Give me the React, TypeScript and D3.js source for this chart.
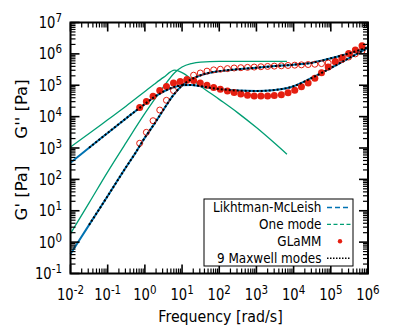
import React from "react";
import * as d3 from "d3";

// ---- data (log10 values) ----
const lmLogW = [-2, -1.5, -1, -0.5, -0.25, 0, 0.25, 0.5, 0.75, 1, 1.25, 1.5, 1.75, 2, 2.5, 3, 3.5, 4, 4.5, 5, 5.5, 6];
const lmLogGp = [-0.38, 0.55, 1.47, 2.4, 2.85, 3.33, 3.76, 4.22, 4.66, 4.99, 5.19, 5.32, 5.4, 5.45, 5.51, 5.56, 5.61, 5.655, 5.72, 5.86, 6.02, 6.21];
const lmLogGpp = [2.53, 3.01, 3.48, 3.95, 4.18, 4.4, 4.62, 4.8, 4.93, 5.0, 5.01, 4.97, 4.92, 4.88, 4.83, 4.815, 4.85, 4.97, 5.24, 5.55, 5.87, 6.19];

const mxLogW = [-1.5, -1, -0.5, -0.25, 0, 0.25, 0.5, 0.75, 1, 1.25, 1.5, 1.75, 2, 2.5, 3, 3.5, 4, 4.5, 5, 5.5, 6];
const mxLogGp = [0.55, 1.47, 2.4, 2.85, 3.33, 3.76, 4.22, 4.66, 4.99, 5.19, 5.32, 5.4, 5.45, 5.51, 5.56, 5.61, 5.655, 5.72, 5.86, 6.02, 6.21];
const mxLogGpp = [3.01, 3.48, 3.95, 4.18, 4.4, 4.62, 4.8, 4.93, 5.0, 5.01, 4.97, 4.92, 4.88, 4.83, 4.815, 4.85, 4.97, 5.24, 5.55, 5.87, 6.19];

const oneLogW = [-2, -1.5, -1, -0.5, 0, 0.25, 0.5, 0.8, 1, 1.25, 1.5, 2, 2.5, 3, 3.5, 3.82];
const oneLogGp = [0.27, 1.25, 2.24, 3.18, 4.1, 4.53, 4.95, 5.4, 5.58, 5.69, 5.74, 5.76, 5.76, 5.76, 5.76, 5.76];
const oneLogGpp = [3.03, 3.46, 3.9, 4.34, 4.8, 5.03, 5.25, 5.48, 5.4, 5.2, 4.97, 4.55, 4.12, 3.65, 3.14, 2.8];

const glammLogW = [-0.14, 0.04, 0.22, 0.4, 0.58, 0.77, 0.95, 1.13, 1.31, 1.49, 1.67, 1.85, 2.03, 2.22, 2.4, 2.58, 2.76, 2.94, 3.12, 3.3, 3.48, 3.67, 3.85, 4.03, 4.21, 4.39, 4.57, 4.75, 4.93, 5.12, 5.3, 5.48, 5.66, 5.84];
const glammLogGp = [3.15, 3.5, 3.87, 4.21, 4.52, 4.83, 5.05, 5.19, 5.32, 5.39, 5.45, 5.49, 5.51, 5.53, 5.55, 5.56, 5.57, 5.58, 5.59, 5.6, 5.61, 5.62, 5.63, 5.64, 5.65, 5.66, 5.67, 5.69, 5.71, 5.76, 5.82, 5.9, 6.0, 6.1];
const glammLogGpp = [4.29, 4.48, 4.65, 4.83, 4.96, 5.07, 5.12, 5.16, 5.15, 5.07, 5.0, 4.93, 4.87, 4.82, 4.77, 4.72, 4.68, 4.66, 4.66, 4.66, 4.67, 4.7, 4.76, 4.84, 4.95, 5.07, 5.22, 5.4, 5.58, 5.75, 5.88, 6.01, 6.12, 6.26];

const xDecades = [-2, -1, 0, 1, 2, 3, 4, 5, 6];
const yDecades = [-1, 0, 1, 2, 3, 4, 5, 6, 7];
const legendLabels = ["Likhtman-McLeish", "One mode", "GLaMM", "9 Maxwell modes"];

const BLUE = "#0072b2";
const GREEN = "#009e73";
const RED = "#e51e10";
const FONT = "DejaVu Sans, sans-serif";
const SX = 0.86; // horizontal squeeze to mimic a narrower face

export default function App() {
  const W = 399, H = 331;
  const L = 70.5, R = 368, T = 22.5, B = 273.5;
  const x = d3.scaleLog().domain([1e-2, 1e6]).range([L, R]);
  const y = d3.scaleLog().domain([1e-1, 1e7]).range([B, T]);

  const pts = (lw: number[], lg: number[]) => lw.map((w, i) => [Math.pow(10, w), Math.pow(10, lg[i])] as [number, number]);
  const line = d3.line<[number, number]>().x(d => x(d[0])).y(d => y(d[1])).curve(d3.curveMonotoneX);

  const minorX: number[] = [];
  xDecades.slice(0, -1).forEach(e => { for (let m = 2; m <= 9; m++) minorX.push(m * Math.pow(10, e)); });
  const minorY: number[] = [];
  yDecades.slice(0, -1).forEach(e => { for (let m = 2; m <= 9; m++) minorY.push(m * Math.pow(10, e)); });

  const MAJ = 9, MIN = 5;
  const tickStyle = { stroke: "#000", strokeWidth: 1.6 };

  return (
    <svg width={W} height={H} style={{ position: "absolute", left: 0, top: 0, background: "#fff" }} fontFamily={FONT}>
      {/* lines */}
      <path d={line(pts(oneLogW, oneLogGp)) || ""} fill="none" stroke={GREEN} strokeWidth={1.3} />
      <path d={line(pts(oneLogW, oneLogGpp)) || ""} fill="none" stroke={GREEN} strokeWidth={1.3} />
      <path d={line(pts(lmLogW, lmLogGp)) || ""} fill="none" stroke={BLUE} strokeWidth={2} />
      <path d={line(pts(lmLogW, lmLogGpp)) || ""} fill="none" stroke={BLUE} strokeWidth={2} />
      {pts(glammLogW, glammLogGpp).map((d, i) => (
        <circle key={"f" + i} cx={x(d[0])} cy={y(d[1])} r={3.5} fill={RED} />
      ))}
      {pts(glammLogW, glammLogGp).map((d, i) => (
        <circle key={"o" + i} cx={x(d[0])} cy={y(d[1])} r={3} fill="none" stroke={RED} strokeWidth={1} />
      ))}
      <path d={line(pts(mxLogW, mxLogGp)) || ""} fill="none" stroke="#000" strokeWidth={2} strokeDasharray="2 2" />
      <path d={line(pts(mxLogW, mxLogGpp)) || ""} fill="none" stroke="#000" strokeWidth={2} strokeDasharray="2 2" />

      {/* ticks */}
      {xDecades.map(e => {
        const px = x(Math.pow(10, e));
        return (
          <g key={"xt" + e}>
            <line x1={px} x2={px} y1={B} y2={B - MAJ} {...tickStyle} />
            <line x1={px} x2={px} y1={T} y2={T + MAJ} {...tickStyle} />
          </g>
        );
      })}
      {minorX.map((v, i) => {
        const px = x(v);
        return (
          <g key={"xm" + i}>
            <line x1={px} x2={px} y1={B} y2={B - MIN} stroke="#000" strokeWidth={1.2} />
            <line x1={px} x2={px} y1={T} y2={T + MIN} stroke="#000" strokeWidth={1.2} />
          </g>
        );
      })}
      {yDecades.map(e => {
        const py = y(Math.pow(10, e));
        return (
          <g key={"yt" + e}>
            <line x1={L} x2={L + MAJ} y1={py} y2={py} {...tickStyle} />
            <line x1={R} x2={R - MAJ} y1={py} y2={py} {...tickStyle} />
          </g>
        );
      })}
      {minorY.map((v, i) => {
        const py = y(v);
        return (
          <g key={"ym" + i}>
            <line x1={L} x2={L + MIN} y1={py} y2={py} stroke="#000" strokeWidth={1.2} />
            <line x1={R} x2={R - MIN} y1={py} y2={py} stroke="#000" strokeWidth={1.2} />
          </g>
        );
      })}

      {/* frame */}
      <rect x={L} y={T} width={R - L} height={B - T} fill="none" stroke="#000" strokeWidth={2} />

      {/* tick labels */}
      {xDecades.map(e => (
        <text key={"xl" + e} transform={`translate(${x(Math.pow(10, e))},299.5) scale(${SX},1)`} textAnchor="middle" fontSize={15.3} fill="#000">
          10<tspan dy={-6} fontSize={12}>{e}</tspan>
        </text>
      ))}
      {yDecades.map(e => (
        <text key={"yl" + e} transform={`translate(62,${y(Math.pow(10, e)) + 5.6}) scale(${SX},1)`} textAnchor="end" fontSize={15.3} fill="#000">
          10<tspan dy={-6} fontSize={12}>{e}</tspan>
        </text>
      ))}

      {/* axis titles */}
      <text transform={`translate(220.5,322) scale(${SX},1)`} textAnchor="middle" fontSize={16.5} fill="#000">Frequency [rad/s]</text>
      <text transform="translate(26.5,109) rotate(-90)" textAnchor="middle" fontSize={16.5} fill="#000">G'' [Pa]</text>
      <text transform="translate(26.5,193) rotate(-90)" textAnchor="middle" fontSize={16.5} fill="#000">G' [Pa]</text>

      {/* legend */}
      <rect x={204} y={199} width={149} height={67} fill="#fff" stroke="#000" strokeWidth={1} />
      {legendLabels.map((lab, i) => {
        const cy = 207.5 + i * 16.9;
        return (
          <g key={"lg" + i}>
            <text transform={`translate(321.5,${cy + 4.8}) scale(${SX},1)`} textAnchor="end" fontSize={14} fill="#000">{lab}</text>
            {i === 0 && <line x1={327} x2={351} y1={cy} y2={cy} stroke={BLUE} strokeWidth={1.5} strokeDasharray="5 3" />}
            {i === 1 && <line x1={327} x2={351} y1={cy} y2={cy} stroke={GREEN} strokeWidth={1.3} strokeDasharray="4 2.5" />}
            {i === 2 && <circle cx={340} cy={cy} r={2.2} fill={RED} />}
            {i === 3 && <line x1={327} x2={351} y1={cy} y2={cy} stroke="#000" strokeWidth={1.5} strokeDasharray="1.5 1.5" />}
          </g>
        );
      })}
    </svg>
  );
}
